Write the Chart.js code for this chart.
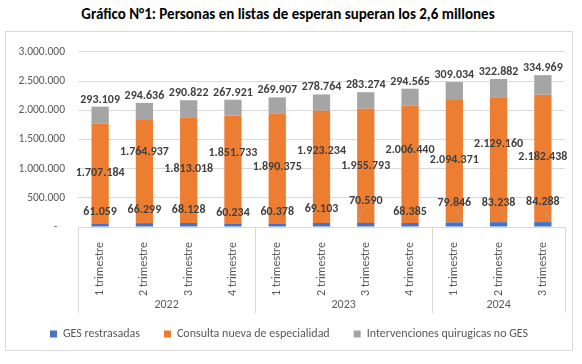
<!DOCTYPE html>
<html>
<head>
<meta charset="utf-8">
<script src="https://cdn.jsdelivr.net/npm/chart.js@4.4.1/dist/chart.umd.min.js"></script>
<style>
  body { margin: 0; background: #fff; font-family: Carlito, Lato, sans-serif; }
  #title { position: absolute; left: 0; top: 5px; width: 576px; text-align: center; font-weight: bold; font-size: 15px; color: #000; }
  #box { position: absolute; left: 5px; top: 31px; width: 566px; height: 318px; border: 1px solid #d9d9d9; }
</style>
</head>
<body>
<div id="title">Gráfico N°1: Personas en listas de esperan superan los 2,6 millones</div>
<div id="box"><canvas id="chart"></canvas></div>
<script>
// data
const quarters = ['1 trimestre', '2 trimestre', '3 trimestre', '4 trimestre',
                  '1 trimestre', '2 trimestre', '3 trimestre', '4 trimestre',
                  '1 trimestre', '2 trimestre', '3 trimestre']
const years = ['2022', '2023', '2024']
const quartersPerYear = [4, 4, 3]
const seriesNames = ['GES restrasadas', 'Consulta nueva de especialidad', 'Intervenciones quirugicas no GES']
const gesRestrasadas = [61059, 66299, 68128, 60234, 60378, 69103, 70590, 68385, 79846, 83238, 84288]
const consultaNueva = [1707184, 1764937, 1813018, 1851733, 1890375, 1923234, 1955793, 2006440, 2094371, 2129160, 2182438]
const intervenciones = [293109, 294636, 290822, 267921, 269907, 278764, 283274, 294565, 309034, 322882, 334969]
const yMax = 3000000
const yStep = 500000

const colors = ['#4472C4', '#ED7D31', '#A5A5A5']
const gridColor = '#d9d9d9'
const textColor = '#595959'
const fontFamily = 'Carlito, Lato, sans-serif'

// label lifts (px) for the hand-moved data labels
const blueLift = [11, 13, 13, 10, 11, 14, 22, 11, 19, 19, 20]
const orangeLift = [1, 20, 1, 16, 1, 16, 0, 14, 1, 16, 1]
const leaders = [1, 5, 6, 8, 9, 10]

function formatThousands(v) {
  return String(v).replace(/\B(?=(\d{3})+(?!\d))/g, '.')
}

const groupAxis = {
  id: 'groupAxis',
  afterDraw(chart) {
    const ctx = chart.ctx
    const area = chart.chartArea
    const xs = chart.scales.x
    const half = (area.right - area.left) / quarters.length / 2
    ctx.save()
    ctx.strokeStyle = gridColor
    ctx.lineWidth = 1
    let edges = [area.left]
    let count = 0
    quartersPerYear.forEach(function(n) {
      count += n
      edges.push(xs.getPixelForValue(count - 1) + half)
    })
    edges.forEach(function(ex) {
      let px = Math.round(ex) + 0.5
      ctx.beginPath()
      ctx.moveTo(px, area.bottom)
      ctx.lineTo(px, area.bottom + 86)
      ctx.stroke()
    })
    ctx.fillStyle = textColor
    ctx.font = '12px ' + fontFamily
    ctx.textAlign = 'center'
    ctx.textBaseline = 'middle'
    years.forEach(function(y, i) {
      ctx.fillText(y, (edges[i] + edges[i + 1]) / 2, area.bottom + 78)
    })
    ctx.restore()
  }
}

const dataLabels = {
  id: 'dataLabels',
  afterDatasetsDraw(chart) {
    const ctx = chart.ctx
    ctx.save()
    ctx.font = 'bold 12px ' + fontFamily
    ctx.fillStyle = '#404040'
    ctx.textAlign = 'center'
    ctx.textBaseline = 'middle'
    chart.data.datasets.forEach(function(ds, d) {
      const meta = chart.getDatasetMeta(d)
      meta.data.forEach(function(bar, i) {
        const txt = formatThousands(ds.data[i])
        let y
        if (d === 0) {
          y = bar.y - blueLift[i]
          if (leaders.indexOf(i) >= 0) {
            ctx.save()
            ctx.strokeStyle = '#a6a6a6'
            ctx.lineWidth = 0.8
            ctx.beginPath()
            const dir = i === 6 ? -1 : 1
            ctx.moveTo(bar.x + 2 * dir, y + 7)
            ctx.lineTo(bar.x + 8 * dir, bar.y)
            ctx.stroke()
            ctx.restore()
          }
        } else if (d === 1) {
          y = (bar.y + bar.base) / 2 - orangeLift[i]
        } else {
          y = bar.y - 7
        }
        ctx.fillText(txt, bar.x, y)
      })
    })
    ctx.restore()
  }
}

new Chart(document.getElementById('chart'), {
  type: 'bar',
  data: {
    labels: quarters,
    datasets: [
      { label: seriesNames[0], data: gesRestrasadas, backgroundColor: colors[0] },
      { label: seriesNames[1], data: consultaNueva, backgroundColor: colors[1] },
      { label: seriesNames[2], data: intervenciones, backgroundColor: colors[2] }
    ]
  },
  options: {
    responsive: true,
    maintainAspectRatio: false,
    animation: false,
    categoryPercentage: 0.39,
    barPercentage: 1,
    layout: { padding: { top: 15, right: 7, left: 7, bottom: 0 } },
    scales: {
      x: {
        stacked: true,
        grid: { display: false },
        border: { display: true, color: gridColor },
        ticks: { color: textColor, font: { size: 12, family: fontFamily }, minRotation: 90, maxRotation: 90, padding: 7 },
        afterFit: function(scale) { scale.height = 77 }
      },
      y: {
        stacked: true,
        min: 0,
        max: yMax,
        grid: { color: gridColor, drawTicks: false },
        border: { display: false },
        ticks: {
          stepSize: yStep,
          color: textColor,
          font: { size: 11.5, family: fontFamily },
          padding: 13,
          callback: function(v) { return v === 0 ? '-   ' : formatThousands(v) }
        },
        afterFit: function(scale) { scale.width = 65 }
      }
    },
    plugins: {
      legend: {
        position: 'bottom',
        labels: { boxWidth: 7, boxHeight: 7, padding: 24, color: textColor, font: { size: 12, family: fontFamily } }
      },
      tooltip: { enabled: false }
    }
  },
  plugins: [dataLabels, groupAxis]
})
</script>
</body>
</html>
